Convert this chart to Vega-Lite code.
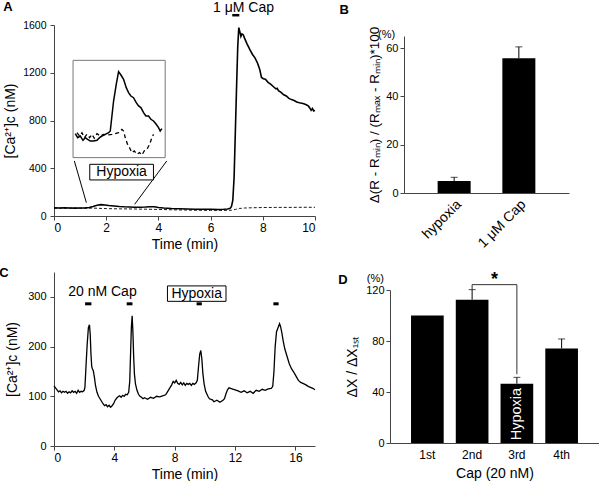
{
  "$schema": "https://vega.github.io/schema/vega-lite/v6.json",
  "padding": {"left": -1, "top": 0, "right": 0, "bottom": 0},
  "background": "white",
  "config": {
    "font": "Liberation Sans",
    "view": {"stroke": null},
    "axis": {"grid": false, "domainColor": "#444", "tickColor": "#444", "labelColor": "#000", "titleColor": "#000", "labelFontSize": 11, "titleFontSize": 14, "titleFontWeight": "normal", "tickSize": 4, "labelPadding": 2},
    "title": {"fontSize": 13, "fontWeight": "bold", "font": "Liberation Sans", "color": "#000"}
  },
  "datasets": {
    "aSolid": [
      {"t":0,"v":68},{"t":0.2,"v":67},{"t":0.4,"v":68},{"t":0.6,"v":67},{"t":0.8,"v":66},{"t":1.0,"v":67},{"t":1.2,"v":68},{"t":1.35,"v":71},{"t":1.5,"v":80},{"t":1.65,"v":90},{"t":1.8,"v":95},{"t":1.95,"v":92},{"t":2.1,"v":88},{"t":2.3,"v":84},{"t":2.5,"v":80},{"t":2.7,"v":77},{"t":2.9,"v":75},{"t":3.1,"v":73},{"t":3.3,"v":73},{"t":3.5,"v":75},{"t":3.7,"v":78},{"t":3.85,"v":77},{"t":4.0,"v":71},{"t":4.2,"v":67},{"t":4.5,"v":63},{"t":4.8,"v":61},{"t":5.1,"v":59},{"t":5.4,"v":57},{"t":5.7,"v":56},{"t":6.0,"v":56},{"t":6.3,"v":55},{"t":6.5,"v":56},{"t":6.65,"v":58},{"t":6.75,"v":64},{"t":6.8,"v":80},{"t":6.85,"v":130},{"t":6.9,"v":320},{"t":6.95,"v":720},{"t":7.0,"v":1120},{"t":7.04,"v":1420},{"t":7.08,"v":1578},{"t":7.12,"v":1545},{"t":7.16,"v":1505},{"t":7.2,"v":1525},{"t":7.25,"v":1518},{"t":7.3,"v":1490},{"t":7.35,"v":1465},{"t":7.4,"v":1440},{"t":7.5,"v":1395},{"t":7.6,"v":1355},{"t":7.7,"v":1325},{"t":7.8,"v":1280},{"t":7.88,"v":1230},{"t":7.95,"v":1160},{"t":8.02,"v":1150},{"t":8.1,"v":1145},{"t":8.2,"v":1120},{"t":8.3,"v":1105},{"t":8.4,"v":1085},{"t":8.5,"v":1065},{"t":8.55,"v":1070},{"t":8.6,"v":1050},{"t":8.7,"v":1035},{"t":8.8,"v":1015},{"t":8.9,"v":1005},{"t":9.0,"v":985},{"t":9.1,"v":975},{"t":9.2,"v":968},{"t":9.3,"v":955},{"t":9.4,"v":948},{"t":9.5,"v":945},{"t":9.6,"v":938},{"t":9.7,"v":928},{"t":9.75,"v":920},{"t":9.8,"v":905},{"t":9.85,"v":885},{"t":9.9,"v":900},{"t":9.95,"v":880},{"t":10.0,"v":885}
    ],
    "aDash": [
      {"t":0,"v":66},{"t":0.5,"v":66},{"t":1.0,"v":65},{"t":1.5,"v":66},{"t":2.0,"v":62},{"t":2.5,"v":60},{"t":3.0,"v":59},{"t":3.5,"v":57},{"t":4.0,"v":55},{"t":4.5,"v":52},{"t":5.0,"v":50},{"t":5.5,"v":48},{"t":6.0,"v":47},{"t":6.5,"v":47},{"t":6.8,"v":48},{"t":6.95,"v":55},{"t":7.1,"v":63},{"t":7.3,"v":67},{"t":7.6,"v":69},{"t":8.0,"v":71},{"t":8.5,"v":72},{"t":9.0,"v":72},{"t":9.5,"v":73},{"t":10.0,"v":73}
    ],
    "aInSolid": [
      {"t":0.816,"v":690},{"t":0.906,"v":656},{"t":1.008,"v":670},{"t":1.110,"v":634},{"t":1.199,"v":656},{"t":1.288,"v":642},{"t":1.390,"v":628},{"t":1.518,"v":628},{"t":1.645,"v":634},{"t":1.747,"v":656},{"t":1.837,"v":670},{"t":1.964,"v":684},{"t":2.092,"v":698},{"t":2.156,"v":712},{"t":2.283,"v":963},{"t":2.385,"v":1103},{"t":2.474,"v":1209},{"t":2.564,"v":1181},{"t":2.666,"v":1145},{"t":2.768,"v":1075},{"t":2.857,"v":1033},{"t":2.946,"v":1005},{"t":3.048,"v":991},{"t":3.151,"v":949},{"t":3.240,"v":922},{"t":3.329,"v":908},{"t":3.431,"v":866},{"t":3.520,"v":838},{"t":3.622,"v":838},{"t":3.712,"v":810},{"t":3.814,"v":796},{"t":3.916,"v":768},{"t":4.005,"v":740},{"t":4.069,"v":712},{"t":4.133,"v":732}
    ],
    "aInDash": [
      {"t":0.880,"v":698},{"t":0.982,"v":670},{"t":1.071,"v":698},{"t":1.161,"v":656},{"t":1.263,"v":684},{"t":1.365,"v":656},{"t":1.454,"v":684},{"t":1.543,"v":651},{"t":1.645,"v":690},{"t":1.773,"v":670},{"t":1.901,"v":684},{"t":2.028,"v":679},{"t":2.219,"v":684},{"t":2.347,"v":690},{"t":2.474,"v":698},{"t":2.602,"v":726},{"t":2.666,"v":712},{"t":2.730,"v":656},{"t":2.819,"v":600},{"t":2.895,"v":572},{"t":2.985,"v":531},{"t":3.074,"v":545},{"t":3.176,"v":517},{"t":3.278,"v":531},{"t":3.367,"v":511},{"t":3.457,"v":545},{"t":3.559,"v":558},{"t":3.661,"v":600},{"t":3.750,"v":656},{"t":3.814,"v":684}
    ],
    "aBox": [{"t":0.73,"t2":4.26,"v":489,"v2":1304}],
    "aConn": [{"g":"L","t":0.78,"v":461,"o":1},{"g":"L","t":1.24,"v":112,"o":2},{"g":"R","t":4.32,"v":461,"o":1},{"g":"R","t":3.09,"v":98,"o":2}],
    "aHyp": [{"t":1.37,"t2":3.81,"v":302,"v2":433,"tm":2.59,"vm":367,"label":"Hypoxia"}],
    "aCap": [{"t":6.83,"t2":7.1,"v":1682,"tm":7.26,"vm":1745,"label":"1 μM Cap"}],
    "bBars": [{"c":"hypoxia","v":5.0,"e":6.5},{"c":"1 μM Cap","v":55.8,"e":60.5}],
    "bPct": [{"c":"hypoxia","v":65.5,"label":"(%)"}],
    "cTrace": [
      {"t":0,"v":121},{"t":0.1,"v":117},{"t":0.2,"v":113},{"t":0.3,"v":109},{"t":0.4,"v":111},{"t":0.5,"v":107},{"t":0.6,"v":110},{"t":0.7,"v":108},{"t":0.8,"v":110},{"t":0.9,"v":106},{"t":1.0,"v":109},{"t":1.1,"v":107},{"t":1.2,"v":111},{"t":1.3,"v":108},{"t":1.4,"v":110},{"t":1.5,"v":106},{"t":1.6,"v":112},{"t":1.7,"v":108},{"t":1.8,"v":110},{"t":1.9,"v":109},{"t":2.0,"v":112},{"t":2.05,"v":118},{"t":2.12,"v":160},{"t":2.2,"v":205},{"t":2.28,"v":238},{"t":2.35,"v":244},{"t":2.4,"v":225},{"t":2.45,"v":185},{"t":2.5,"v":160},{"t":2.55,"v":155},{"t":2.6,"v":152},{"t":2.67,"v":140},{"t":2.75,"v":122},{"t":2.85,"v":108},{"t":2.95,"v":100},{"t":3.05,"v":95},{"t":3.15,"v":90},{"t":3.25,"v":85},{"t":3.35,"v":81},{"t":3.45,"v":83},{"t":3.55,"v":79},{"t":3.65,"v":82},{"t":3.75,"v":78},{"t":3.85,"v":81},{"t":3.95,"v":85},{"t":4.05,"v":92},{"t":4.15,"v":96},{"t":4.25,"v":99},{"t":4.35,"v":101},{"t":4.45,"v":98},{"t":4.55,"v":102},{"t":4.65,"v":100},{"t":4.75,"v":104},{"t":4.85,"v":103},{"t":4.95,"v":108},{"t":5.02,"v":130},{"t":5.08,"v":190},{"t":5.13,"v":240},{"t":5.18,"v":262},{"t":5.23,"v":230},{"t":5.28,"v":180},{"t":5.33,"v":145},{"t":5.4,"v":125},{"t":5.5,"v":112},{"t":5.6,"v":104},{"t":5.7,"v":100},{"t":5.8,"v":98},{"t":5.9,"v":95},{"t":6.0,"v":97},{"t":6.2,"v":94},{"t":6.4,"v":98},{"t":6.6,"v":96},{"t":6.8,"v":100},{"t":7.0,"v":99},{"t":7.2,"v":101},{"t":7.4,"v":103},{"t":7.5,"v":108},{"t":7.6,"v":113},{"t":7.7,"v":118},{"t":7.8,"v":123},{"t":7.9,"v":130},{"t":8.0,"v":127},{"t":8.1,"v":132},{"t":8.2,"v":126},{"t":8.3,"v":124},{"t":8.4,"v":128},{"t":8.5,"v":123},{"t":8.6,"v":127},{"t":8.7,"v":122},{"t":8.8,"v":126},{"t":8.9,"v":124},{"t":9.0,"v":126},{"t":9.1,"v":122},{"t":9.2,"v":126},{"t":9.3,"v":124},{"t":9.42,"v":127},{"t":9.5,"v":132},{"t":9.58,"v":160},{"t":9.66,"v":185},{"t":9.73,"v":192},{"t":9.8,"v":175},{"t":9.87,"v":145},{"t":9.95,"v":125},{"t":10.05,"v":110},{"t":10.2,"v":100},{"t":10.3,"v":95},{"t":10.5,"v":93},{"t":10.6,"v":89},{"t":10.8,"v":92},{"t":11.0,"v":88},{"t":11.2,"v":92},{"t":11.3,"v":95},{"t":11.4,"v":105},{"t":11.5,"v":113},{"t":11.6,"v":117},{"t":11.8,"v":115},{"t":12.0,"v":113},{"t":12.2,"v":111},{"t":12.4,"v":108},{"t":12.6,"v":111},{"t":12.8,"v":107},{"t":13.0,"v":110},{"t":13.2,"v":106},{"t":13.4,"v":112},{"t":13.6,"v":110},{"t":13.8,"v":114},{"t":14.0,"v":112},{"t":14.2,"v":115},{"t":14.4,"v":116},{"t":14.5,"v":120},{"t":14.58,"v":150},{"t":14.66,"v":200},{"t":14.75,"v":230},{"t":14.85,"v":238},{"t":14.95,"v":246},{"t":15.02,"v":240},{"t":15.1,"v":228},{"t":15.2,"v":210},{"t":15.3,"v":195},{"t":15.45,"v":180},{"t":15.6,"v":165},{"t":15.75,"v":155},{"t":15.9,"v":148},{"t":16.05,"v":140},{"t":16.2,"v":132},{"t":16.35,"v":128},{"t":16.5,"v":126},{"t":16.7,"v":123},{"t":16.85,"v":120},{"t":17.0,"v":118},{"t":17.15,"v":116},{"t":17.3,"v":113}
    ],
    "cStim": [{"t":2.06,"t2":2.48,"v":286},{"t":4.82,"t2":5.2,"v":286},{"t":9.45,"t2":9.8,"v":286},{"t":14.54,"t2":14.89,"v":286}],
    "cText": [{"t":3.21,"v":309,"label":"20 nM Cap"}],
    "cHyp": [{"t":7.52,"t2":11.4,"v":291,"v2":322,"tm":9.46,"vm":306.5,"label":"Hypoxia"}],
    "dBars": [{"c":"1st","v":100,"e":null},{"c":"2nd","v":112.4,"e":120.3},{"c":"3rd","v":46.5,"e":51.5},{"c":"4th","v":74.2,"e":81.6}],
    "dBracket": [{"c":"2nd","v":120.3,"o":1},{"c":"2nd","v":124.2,"o":2},{"c":"3rd","v":124.2,"o":3},{"c":"3rd","v":54,"o":4}],
    "dStar": [{"c":"2nd","v":128,"label":"*"}],
    "dHyp": [{"c":"3rd","v":22.7,"label":"Hypoxia"}],
    "dPct": [{"c":"1st","v":129,"label":"(%)"}]
  },
  "spacing": 16,
  "vconcat": [
    {
      "spacing": 20,
      "hconcat": [
        {
          "width": 261, "height": 191,
          "title": {"text": "A", "orient": "left", "anchor": "end", "frame": "bounds", "angle": 0, "align": "left", "baseline": "top", "offset": -9},
          "layer": [
            {"data": {"name": "aDash"}, "mark": {"type": "line", "color": "#000", "strokeWidth": 0.9, "strokeDash": [3, 2]},
             "encoding": {
               "x": {"field": "t", "type": "quantitative", "scale": {"domain": [0, 10], "nice": false}, "axis": {"values": [0,2,4,6,8,10], "title": "Time (min)", "labelFontSize": 12}},
               "y": {"field": "v", "type": "quantitative", "scale": {"domain": [0, 1600], "nice": false}, "axis": {"values": [0,200,400,600,800,1000,1200,1400,1600], "format": "d", "labelExpr": "datum.value % 400 === 0 ? datum.label : ''", "title": "[Ca²⁺]c (nM)", "titlePadding": 5, "labelFontSize": 10.5, "labelPadding": 4}}
             }},
            {"data": {"name": "aSolid"}, "mark": {"type": "line", "color": "#000", "strokeWidth": 1.6},
             "encoding": {"x": {"field": "t", "type": "quantitative"}, "y": {"field": "v", "type": "quantitative"}}},
            {"data": {"name": "aConn"}, "mark": {"type": "line", "color": "#000", "strokeWidth": 1},
             "encoding": {"x": {"field": "t", "type": "quantitative"}, "y": {"field": "v", "type": "quantitative"}, "detail": {"field": "g"}, "order": {"field": "o"}}},
            {"data": {"name": "aBox"}, "mark": {"type": "rect", "fill": "white", "stroke": "#777", "strokeWidth": 1},
             "encoding": {"x": {"field": "t", "type": "quantitative"}, "x2": {"field": "t2"}, "y": {"field": "v", "type": "quantitative"}, "y2": {"field": "v2"}}},
            {"data": {"name": "aInDash"}, "mark": {"type": "line", "color": "#000", "strokeWidth": 1.3, "strokeDash": [4, 3]},
             "encoding": {"x": {"field": "t", "type": "quantitative"}, "y": {"field": "v", "type": "quantitative"}}},
            {"data": {"name": "aInSolid"}, "mark": {"type": "line", "color": "#000", "strokeWidth": 1.5},
             "encoding": {"x": {"field": "t", "type": "quantitative"}, "y": {"field": "v", "type": "quantitative"}}},
            {"data": {"name": "aHyp"}, "mark": {"type": "rect", "fill": "white", "stroke": "#000", "strokeWidth": 1},
             "encoding": {"x": {"field": "t", "type": "quantitative"}, "x2": {"field": "t2"}, "y": {"field": "v", "type": "quantitative"}, "y2": {"field": "v2"}}},
            {"data": {"name": "aHyp"}, "mark": {"type": "text", "fontSize": 14, "baseline": "middle", "align": "center"},
             "encoding": {"x": {"field": "tm", "type": "quantitative"}, "y": {"field": "vm", "type": "quantitative"}, "text": {"field": "label"}}},
            {"data": {"name": "aCap"}, "mark": {"type": "rule", "color": "#000", "strokeWidth": 2.5},
             "encoding": {"x": {"field": "t", "type": "quantitative"}, "x2": {"field": "t2"}, "y": {"field": "v", "type": "quantitative"}}},
            {"data": {"name": "aCap"}, "mark": {"type": "text", "fontSize": 14, "baseline": "middle", "align": "center"},
             "encoding": {"x": {"field": "tm", "type": "quantitative"}, "y": {"field": "vm", "type": "quantitative"}, "text": {"field": "label"}}}
          ]
        },
        {
          "width": 165, "height": 168,
          "title": {"text": "B", "orient": "left", "anchor": "end", "frame": "bounds", "angle": 0, "align": "left", "baseline": "top", "offset": 19, "dy": -21},
          "layer": [
            {"data": {"name": "bBars"}, "mark": {"type": "bar", "color": "#000"},
             "encoding": {
               "x": {"field": "c", "type": "nominal", "scale": {"domain": ["hypoxia", "1 μM Cap"], "paddingInner": 0.49, "paddingOuter": 0.52}, "axis": {"title": null, "labelAngle": -45, "ticks": false, "labelFontSize": 14, "labelPadding": 4}},
               "y": {"field": "v", "type": "quantitative", "scale": {"domain": [0, 65], "nice": false, "range": [168, 11]}, "axis": {"values": [0,5,10,15,20,25,30,35,40,45,50,55,60], "labelExpr": "datum.value % 10 === 0 ? datum.label : ''", "title": "Δ(R - Rₘᵢₙ) / (Rₘₐₓ - Rₘᵢₙ)*100", "titleFontSize": 13.5, "titlePadding": 4}}
             }},
            {"data": {"name": "bBars"}, "mark": {"type": "rule", "color": "#000", "strokeWidth": 1},
             "encoding": {"x": {"field": "c", "type": "nominal"}, "y": {"field": "v", "type": "quantitative"}, "y2": {"field": "e"}}},
            {"data": {"name": "bBars"}, "mark": {"type": "tick", "color": "#000", "thickness": 1, "size": 7},
             "encoding": {"x": {"field": "c", "type": "nominal"}, "y": {"field": "e", "type": "quantitative"}}},
            {"data": {"name": "bPct"}, "mark": {"type": "text", "fontSize": 11, "align": "right", "baseline": "middle", "dx": -59},
             "encoding": {"x": {"field": "c", "type": "nominal"}, "y": {"field": "v", "type": "quantitative"}, "text": {"field": "label"}}}
          ]
        }
      ]
    },
    {
      "spacing": 20,
      "hconcat": [
        {
          "width": 261, "height": 174,
          "title": {"text": "C", "orient": "left", "anchor": "end", "frame": "bounds", "angle": 0, "align": "left", "baseline": "top", "offset": -3, "dy": -5},
          "layer": [
            {"data": {"name": "cTrace"}, "mark": {"type": "line", "color": "#000", "strokeWidth": 1.3},
             "encoding": {
               "x": {"field": "t", "type": "quantitative", "scale": {"domain": [0, 17.3], "nice": false}, "axis": {"values": [0,1,2,3,4,5,6,7,8,9,10,11,12,13,14,15,16,17], "labelExpr": "datum.value % 2 === 0 ? datum.label : ''", "title": "Time (min)", "labelFontSize": 12}},
               "y": {"field": "v", "type": "quantitative", "scale": {"domain": [0, 350], "nice": false}, "axis": {"values": [0,50,100,150,200,250,300,350], "labelExpr": "datum.value % 100 === 0 ? datum.label : ''", "title": "[Ca²⁺]c  (nM)", "titlePadding": 8, "labelPadding": 4}}
             }},
            {"data": {"name": "cStim"}, "mark": {"type": "rule", "color": "#000", "strokeWidth": 3},
             "encoding": {"x": {"field": "t", "type": "quantitative"}, "x2": {"field": "t2"}, "y": {"field": "v", "type": "quantitative"}}},
            {"data": {"name": "cText"}, "mark": {"type": "text", "fontSize": 14, "baseline": "middle", "align": "center"},
             "encoding": {"x": {"field": "t", "type": "quantitative"}, "y": {"field": "v", "type": "quantitative"}, "text": {"field": "label"}}},
            {"data": {"name": "cHyp"}, "mark": {"type": "rect", "fill": "white", "stroke": "#000", "strokeWidth": 1},
             "encoding": {"x": {"field": "t", "type": "quantitative"}, "x2": {"field": "t2"}, "y": {"field": "v", "type": "quantitative"}, "y2": {"field": "v2"}}},
            {"data": {"name": "cHyp"}, "mark": {"type": "text", "fontSize": 14, "baseline": "middle", "align": "center"},
             "encoding": {"x": {"field": "tm", "type": "quantitative"}, "y": {"field": "vm", "type": "quantitative"}, "text": {"field": "label"}}}
          ]
        },
        {
          "width": 209, "height": 171,
          "title": {"text": "D", "orient": "left", "anchor": "end", "frame": "bounds", "angle": 0, "align": "left", "baseline": "top", "offset": -2, "dy": 3},
          "layer": [
            {"data": {"name": "dBars"}, "mark": {"type": "bar", "color": "#000"},
             "encoding": {
               "x": {"field": "c", "type": "nominal", "scale": {"domain": ["1st", "2nd", "3rd", "4th"], "paddingInner": 0.27, "paddingOuter": 0.47}, "axis": {"title": "Cap (20 nM)", "labelAngle": 0, "ticks": false, "labelFontSize": 12, "labelPadding": 6, "titlePadding": 6}},
               "y": {"field": "v", "type": "quantitative", "scale": {"domain": [0, 120], "nice": false, "range": [171, 18]}, "axis": {"values": [0,10,20,30,40,50,60,70,80,90,100,110,120], "labelExpr": "datum.value % 20 === 0 ? datum.label : ''", "title": "ΔX / ΔX₁ₛₜ", "titlePadding": 6}}
             }},
            {"data": {"name": "dBars"}, "transform": [{"filter": "isValid(datum.e)"}], "mark": {"type": "rule", "color": "#000", "strokeWidth": 1},
             "encoding": {"x": {"field": "c", "type": "nominal"}, "y": {"field": "v", "type": "quantitative"}, "y2": {"field": "e"}}},
            {"data": {"name": "dBars"}, "transform": [{"filter": "isValid(datum.e)"}], "mark": {"type": "tick", "color": "#000", "thickness": 1, "size": 7},
             "encoding": {"x": {"field": "c", "type": "nominal"}, "y": {"field": "e", "type": "quantitative"}}},
            {"data": {"name": "dBracket"}, "mark": {"type": "line", "color": "#333", "strokeWidth": 1},
             "encoding": {"x": {"field": "c", "type": "nominal"}, "y": {"field": "v", "type": "quantitative"}, "order": {"field": "o"}}},
            {"data": {"name": "dStar"}, "mark": {"type": "text", "fontSize": 18, "fontWeight": "bold", "align": "center", "baseline": "middle", "dx": 22.5},
             "encoding": {"x": {"field": "c", "type": "nominal"}, "y": {"field": "v", "type": "quantitative"}, "text": {"field": "label"}}},
            {"data": {"name": "dHyp"}, "mark": {"type": "text", "fontSize": 14.5, "color": "white", "angle": 270, "align": "center", "baseline": "middle"},
             "encoding": {"x": {"field": "c", "type": "nominal"}, "y": {"field": "v", "type": "quantitative"}, "text": {"field": "label"}}},
            {"data": {"name": "dPct"}, "mark": {"type": "text", "fontSize": 11, "align": "right", "baseline": "middle", "dx": -43.5},
             "encoding": {"x": {"field": "c", "type": "nominal"}, "y": {"field": "v", "type": "quantitative"}, "text": {"field": "label"}}}
          ]
        }
      ]
    }
  ]
}
